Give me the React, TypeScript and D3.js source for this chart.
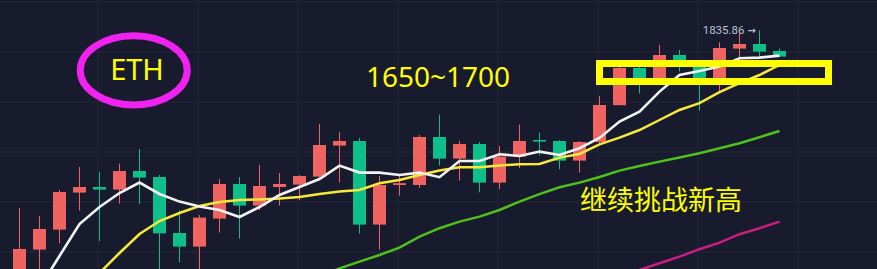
import React from "react";
import * as d3 from "d3";

// ---- data (ETH daily candles, prices in USD) ----
const opens = [1710, 1726.2, 1736.2, 1754.7, 1757.5, 1756.2, 1765.5, 1762.5, 1734.5, 1727.7, 1741.7, 1759, 1748.2, 1757.5, 1758.7, 1762.7, 1778.2, 1780.5, 1738.7, 1758.5, 1758.5, 1782.5, 1771.7, 1779, 1759.7, 1772.7, 1781, 1780.5, 1770.7, 1780, 1798.4, 1817, 1810, 1823.5, 1819, 1811, 1826.7, 1829, 1825.5];
const highs = [1747, 1743, 1756, 1767.5, 1765, 1769.2, 1776.5, 1763.5, 1745.7, 1743.5, 1761.5, 1762.5, 1768.5, 1764.5, 1763.5, 1789, 1785, 1782, 1763, 1763.5, 1783.5, 1793.7, 1780.5, 1780, 1778, 1788.7, 1784.7, 1781, 1780.5, 1803, 1818, 1818, 1828.5, 1826, 1820, 1829.9, 1834.4, 1835.86, 1826.7];
const lows = [1706, 1713.5, 1729.3, 1745.7, 1730.5, 1749.2, 1749, 1713.5, 1719.8, 1712, 1734.7, 1731.7, 1746, 1748.2, 1751, 1761.7, 1759.7, 1734.2, 1726.2, 1753.2, 1757, 1768.2, 1760.7, 1754.9, 1756.5, 1767, 1773.2, 1766.4, 1764.7, 1778.5, 1798.4, 1804.2, 1809, 1815.2, 1795.7, 1804.9, 1821, 1822.7, 1822.5];
const closes = [1726.5, 1736.5, 1755, 1757.5, 1756.2, 1765.5, 1762.2, 1734.3, 1727.7, 1742.2, 1759, 1748.2, 1758, 1759, 1763, 1778.5, 1780.5, 1738.7, 1758.5, 1759.4, 1782.5, 1771.7, 1779, 1759.7, 1772.7, 1780.5, 1780.2, 1770.7, 1780, 1798.5, 1817, 1810, 1823.5, 1820.5, 1811, 1827, 1829, 1825.2, 1822.7];

// moving averages (null = not shown)
const ma5 = [null, 1707, 1723, 1739, 1747.5, 1754.5, 1759.7, 1754, 1750.2, 1747.7, 1746, 1742.5, 1747.5, 1753.5, 1757.5, 1761.5, 1768.2, 1764.7, 1764.7, 1763.5, 1764.7, 1762.4, 1770.5, 1770.5, 1773.9, 1773, 1775.2, 1773.5, 1776.9, 1782, 1790.2, 1795.2, 1805.2, 1813.5, 1815.5, 1817.7, 1821.9, 1822.2, 1823.2];
const ma10 = [null, null, null, null, 1714.5, 1724.5, 1734, 1740.5, 1744.5, 1748, 1750, 1751, 1751.3, 1751.8, 1752.5, 1754, 1755.2, 1756, 1759.4, 1761, 1763.5, 1765.7, 1767.4, 1767.4, 1768.2, 1768.9, 1769, 1772.2, 1774, 1778.8, 1782.2, 1786, 1791, 1796, 1799.4, 1804.9, 1809.4, 1813.5, 1818.5];
const ma30 = [null, null, null, null, null, null, null, null, null, null, null, null, null, null, null, 1712.5, 1716.8, 1720.2, 1723.5, 1727.2, 1732.7, 1736.9, 1740.2, 1742.7, 1746, 1750.2, 1753.9, 1757.4, 1759.7, 1762.5, 1765.7, 1768, 1770.2, 1772.2, 1774.4, 1776.9, 1779.4, 1782.4, 1785.5];
const ma60 = [null, null, null, null, null, null, null, null, null, null, null, null, null, null, null, null, null, null, null, null, null, null, null, null, null, null, null, null, null, null, null, 1716, 1719.4, 1722.7, 1726.4, 1729.7, 1733.9, 1736.9, 1740.2];

const gridPrices = [1850, 1825, 1800, 1775, 1750, 1725];
const maxLabel = "1835.86";
const maxArrow = "→";
const titleText = "ETH";
const targetText = "1650~1700";
const noteText = "继续挑战新高";

const W = 877;
const H = 269;

export default function App() {
  const n = opens.length;
  const x = d3.scaleLinear().domain([0, n - 1]).range([19.5, 19.5 + 20 * (n - 1)]);
  const y = d3.scaleLinear().domain([1716.5, 1850]).range([269, 2]);
  const bodyW = 13;
  const up = "#ef6360";
  const down = "#0ebf89";

  const mkLine = (arr: (number | null)[]) =>
    d3
      .line<number | null>()
      .defined((d) => d != null)
      .x((_, i) => x(i))
      .y((d) => y(d as number))(arr) || "";

  const vGrid = d3.range(4, 44, 5).map((i) => x(i) - 1.5);
  const maxIdx = highs.indexOf(d3.max(highs) as number);

  return (
    <div style={{ position: "absolute", left: 0, top: 0 }}>
      <svg width={W} height={H} style={{ display: "block" }}>
        <rect x={0} y={0} width={W} height={H} fill="#181b2d" />
        {gridPrices.map((p) => (
          <line key={"h" + p} x1={0} x2={W} y1={y(p)} y2={y(p)} stroke="#252939" strokeWidth={1} />
        ))}
        {vGrid.map((gx) => (
          <line key={"v" + gx} x1={gx} x2={gx} y1={0} y2={H} stroke="#252939" strokeWidth={1} />
        ))}
        {opens.map((o, i) => {
          const c = closes[i];
          const col = c >= o ? up : down;
          const top = y(Math.max(o, c));
          const bot = y(Math.min(o, c));
          return (
            <g key={"c" + i}>
              <line x1={x(i)} x2={x(i)} y1={y(highs[i])} y2={y(lows[i])} stroke={col} strokeWidth={1} />
              <rect x={x(i) - bodyW / 2} y={top} width={bodyW} height={Math.max(1.5, bot - top)} fill={col} />
            </g>
          );
        })}
        <path d={mkLine(ma60)} fill="none" stroke="#c81e80" strokeWidth={2.5} />
        <path d={mkLine(ma30)} fill="none" stroke="#4ec21b" strokeWidth={2.5} />
        <path d={mkLine(ma10)} fill="none" stroke="#f8e83a" strokeWidth={2.5} />
        <path d={mkLine(ma5)} fill="none" stroke="#f2f2f2" strokeWidth={2.6} />
        <text
          x={x(maxIdx) - 15}
          y={y(highs[maxIdx]) + 3.5}
          textAnchor="end"
          fontFamily="Roboto, 'Noto Sans', sans-serif"
          fontSize={11.5}
          fill="#bcc0d3"
        >
          {maxLabel}
        </text>
        <text
          x={x(maxIdx) - 3.5}
          y={y(highs[maxIdx]) + 3.5}
          textAnchor="end"
          fontFamily="'DejaVu Sans', sans-serif"
          fontSize={10}
          fontWeight="bold"
          fill="#bcc0d3"
        >
          {maxArrow}
        </text>
        <rect x={599.5} y={63.5} width={229} height={18} fill="none" stroke="#ffff00" strokeWidth={7} />
        <ellipse cx={133.7} cy={70.3} rx={53.5} ry={34.6} fill="none" stroke="#ef22ef" strokeWidth={7} />
        <text x={137} y={80} textAnchor="middle" fontFamily="'Noto Sans', sans-serif" fontSize={29} fill="#ffff00">
          {titleText}
        </text>
        <text x={438} y={86.5} textAnchor="middle" fontFamily="'Noto Sans', sans-serif" fontSize={28} fill="#ffff00">
          {targetText}
        </text>
        <text x={580} y={209.5} fontFamily="'Noto Sans CJK SC', sans-serif" fontSize={27} fill="#ffff00">
          {noteText}
        </text>
      </svg>
    </div>
  );
}
